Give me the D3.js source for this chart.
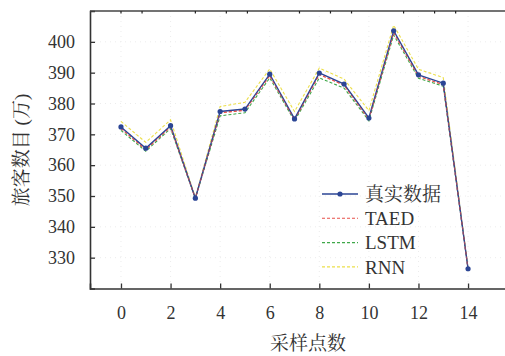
<!DOCTYPE html>
<html>
<head>
<meta charset="utf-8">
<script src="https://cdn.jsdelivr.net/npm/d3@7"></script>
<style>
  html, body { margin: 0; padding: 0; background: #fff; }
  svg { display: block; }
  .axis path, .axis line { stroke: #333; }
</style>
</head>
<body>
<svg id="chart" width="505" height="356"></svg>
<script>
// sample points
const samples = [0, 1, 2, 3, 4, 5, 6, 7, 8, 9, 10, 11, 12, 13, 14];

// series values (万)
const realData = [372.4, 365.5, 372.8, 349.3, 377.4, 378.2, 389.5, 375.0, 389.9, 386.3, 375.3, 403.6, 389.3, 386.6, 326.4];
const taedData = [371.9, 365.0, 372.4, 349.2, 377.0, 377.8, 389.0, 374.7, 389.4, 385.9, 374.9, 403.0, 388.8, 386.1, 326.4];
const lstmData = [371.3, 364.5, 371.9, 349.2, 376.0, 377.0, 388.3, 374.3, 388.3, 385.0, 374.4, 402.2, 388.2, 385.6, 326.4];
const rnnData  = [374.2, 367.4, 374.7, 349.5, 379.0, 380.4, 391.2, 377.4, 391.5, 387.9, 377.7, 405.4, 391.1, 388.4, 326.6];

const xTicks = [0, 2, 4, 6, 8, 10, 12, 14];
const yTicks = [330, 340, 350, 360, 370, 380, 390, 400];
// odd little marks along the top frame
const topTicks = [0, 0.85, 3, 4.25, 5.1, 7.2, 8.45, 9.3, 11.4, 12.65, 13.5];

const seriesNames = ['真实数据', 'TAED', 'LSTM', 'RNN'];
const seriesColors = ['#2b4595', '#e8504a', '#3fa84a', '#ecdf4a'];

const latinFont = '"Liberation Serif"';
const cjkFont = '"Noto Serif CJK SC"';

const svg = d3.select('#chart');

const plotLeft = 90, plotTop = 11, plotBottom = 288.5;
const xScale = d3.scaleLinear().domain([-1.25, 16]).range([plotLeft, plotLeft + 17.25 * 24.79]);
const yScale = d3.scaleLinear().domain([320, 410]).range([plotBottom, plotTop]);

// faint dotted grid
const grid = svg.append('g');
grid.selectAll('line.gy')
  .data(yTicks)
  .enter().append('line')
  .attr('x1', plotLeft).attr('x2', 505)
  .attr('y1', d => yScale(d)).attr('y2', d => yScale(d))
  .attr('stroke', '#ececec')
  .attr('stroke-dasharray', '1,4');
grid.selectAll('line.gx')
  .data(xTicks)
  .enter().append('line')
  .attr('x1', d => xScale(d)).attr('x2', d => xScale(d))
  .attr('y1', plotTop).attr('y2', plotBottom)
  .attr('stroke', '#ececec')
  .attr('stroke-dasharray', '1,4');

// series lines
const line = d3.line()
  .x((d, i) => xScale(samples[i]))
  .y(d => yScale(d));

const allSeries = [realData, taedData, lstmData, rnnData];

// dashed ones first, then the real data on top
[3, 2, 1].forEach(k => {
  svg.append('path')
    .datum(allSeries[k])
    .attr('d', line)
    .attr('fill', 'none')
    .attr('stroke', seriesColors[k])
    .attr('stroke-width', 1.1)
    .attr('stroke-dasharray', '3,2');
});

svg.append('path')
  .datum(realData)
  .attr('d', line)
  .attr('fill', 'none')
  .attr('stroke', seriesColors[0])
  .attr('stroke-width', 1.4);

// TAED overlaps the real line, show it a bit on top
svg.append('path')
  .datum(taedData)
  .attr('d', line)
  .attr('fill', 'none')
  .attr('stroke', seriesColors[1])
  .attr('stroke-width', 0.9)
  .attr('stroke-opacity', 0.7)
  .attr('stroke-dasharray', '3,2');

svg.selectAll('circle.pt')
  .data(realData)
  .enter().append('circle')
  .attr('class', 'pt')
  .attr('cx', (d, i) => xScale(samples[i]))
  .attr('cy', d => yScale(d))
  .attr('r', 2.6)
  .attr('fill', seriesColors[0]);

// axes
const xAxis = d3.axisBottom(xScale)
  .tickValues(xTicks)
  .tickSize(-5)
  .tickPadding(18);

const gx = svg.append('g')
  .attr('class', 'axis')
  .attr('transform', `translate(0,${plotBottom})`)
  .call(xAxis);
gx.select('.domain').attr('stroke-width', 1.6);
gx.selectAll('line').attr('stroke-width', 1.3);
gx.selectAll('text')
  .style('font-family', latinFont)
  .style('font-size', '18px')
  .attr('fill', '#333');

const yAxis = d3.axisLeft(yScale)
  .tickValues(yTicks)
  .tickSize(-5)
  .tickPadding(15);

const gy = svg.append('g')
  .attr('class', 'axis')
  .attr('transform', `translate(${plotLeft},0)`)
  .call(yAxis);
gy.select('.domain').attr('stroke-width', 1.6);
gy.selectAll('line').attr('stroke-width', 1.3);
gy.selectAll('text')
  .style('font-family', latinFont)
  .style('font-size', '18px')
  .attr('fill', '#333');

// top frame line
svg.append('line')
  .attr('x1', plotLeft).attr('x2', 505)
  .attr('y1', plotTop).attr('y2', plotTop)
  .attr('stroke', '#444')
  .attr('stroke-width', 1.6);

svg.selectAll('line.tt')
  .data(topTicks)
  .enter().append('line')
  .attr('x1', d => xScale(d)).attr('x2', d => xScale(d))
  .attr('y1', plotTop).attr('y2', plotTop + 2.5)
  .attr('stroke', '#222')
  .attr('stroke-width', 1.2);

// axis titles
svg.append('text')
  .attr('x', 308)
  .attr('y', 350)
  .attr('text-anchor', 'middle')
  .attr('fill', '#333')
  .style('font-family', cjkFont)
  .style('font-size', '19px')
  .text('采样点数');

const yTitle = svg.append('text')
  .attr('transform', 'translate(28,150) rotate(-90)')
  .attr('text-anchor', 'middle')
  .attr('fill', '#333')
  .style('font-family', cjkFont)
  .style('font-size', '19px');
yTitle.append('tspan').text('旅客数目 ');
yTitle.append('tspan').style('font-family', latinFont).text('(');
yTitle.append('tspan').text('万');
yTitle.append('tspan').style('font-family', latinFont).text(')');

// legend
const legend = svg.append('g')
  .attr('transform', 'translate(322,194)');

seriesNames.forEach((name, i) => {
  const row = legend.append('g').attr('transform', `translate(0,${i * 24.3})`);
  const ln = row.append('line')
    .attr('x1', 0).attr('x2', 36)
    .attr('y1', 0).attr('y2', 0)
    .attr('stroke', seriesColors[i]);
  if (i === 0) {
    ln.attr('stroke-width', 1.5);
    row.append('circle').attr('cx', 18).attr('cy', 0).attr('r', 2.6).attr('fill', seriesColors[0]);
  } else {
    ln.attr('stroke-width', 1.1).attr('stroke-dasharray', '3,2');
  }
  row.append('text')
    .attr('x', 43)
    .attr('y', 0)
    .attr('dy', '0.35em')
    .attr('fill', '#333')
    .style('font-family', i === 0 ? cjkFont : latinFont)
    .style('font-size', '19px')
    .text(name);
});
</script>
</body>
</html>
